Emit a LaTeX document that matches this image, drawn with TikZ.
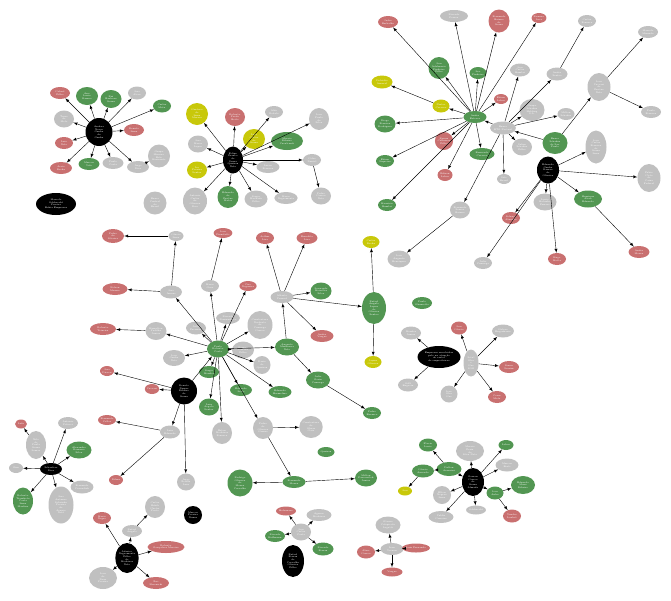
\documentclass[tikz,border=0pt]{standalone}
\usetikzlibrary{shapes.geometric}
\definecolor{nred}{RGB}{201,112,112}
\definecolor{ngreen}{RGB}{82,150,82}
\definecolor{ngrey}{RGB}{192,192,192}
\definecolor{nyellow}{RGB}{200,200,10}
\tikzset{
  base/.style={ellipse, inner sep=0pt, text=white, align=center,
    font=\fontsize{2.3}{2.7}\selectfont},
  rd/.style={base, fill=nred},
  gn/.style={base, fill=ngreen},
  gy/.style={base, fill=ngrey},
  yl/.style={base, fill=nyellow},
  bk/.style={base, fill=black},
  sz/.style 2 args={minimum width=#1pt, minimum height=#2pt}
}
\begin{document}
\begin{tikzpicture}[x=1pt, y=-1pt, >=latex, line width=0.4pt]
    \useasboundingbox (0,0) rectangle (671,600);
    % top left
    \node[bk, sz={27}{28}] (a0) at (99,132) {Andrea\\Neves\\Cunha\\da\\Cunha};
    \node[rd, sz={20}{12}] (a1) at (60,93) {Cabral\\Filho};
    \node[gn, sz={22}{18}] (a2) at (87,96) {Ana\\Lucia\\Ramos};
    \node[gn, sz={21}{18}] (a3) at (111,99) {Rui\\Barbosa\\Souza};
    \node[gy, sz={18}{13}] (a4) at (137,93) {Jose\\Alves};
    \node[gn, sz={18}{13}] (a5) at (162,106) {Carlos\\Mota};
    \node[gy, sz={20}{17}] (a6) at (64,119) {Tasso\\de\\Melo};
    \node[rd, sz={20}{12}] (a7) at (134,130) {Renato\\Lima};
    \node[rd, sz={18}{12}] (a8) at (64,143) {Luis\\Neto};
    \node[rd, sz={22}{12}] (a9) at (61,168) {Aecio\\Rocha};
    \node[gn, sz={21}{12}] (a10) at (89,164) {Marcos\\Vale};
    \node[gy, sz={21}{12}] (a11) at (113,163) {Paulo\\Costa};
    \node[gy, sz={22}{12}] (a12) at (138,167) {Jorge\\Dias};
    \node[gy, sz={22}{23}] (a13) at (159,156) {Grupo\\Mineiro\\Belo\\Horizonte};
    \node[bk, sz={40}{22}] (a14) at (56,204) {Marcelo\\Odebrecht\\Pereira\\Bahia Empresas};
    \node[gy, sz={23}{23}] (a15) at (155,203) {Banco\\Central\\do\\Brasil};
    \draw[->] (a0) to (a1);
    \draw[->] (a0) to (a2);
    \draw[->] (a0) to (a3);
    \draw[->] (a0) to (a4);
    \draw[->] (a0) to (a5);
    \draw[->] (a0) to (a6);
    \draw[->] (a0) to (a7);
    \draw[->] (a0) to (a8);
    \draw[->] (a0) to (a9);
    \draw[->] (a0) to (a10);
    \draw[->] (a0) to (a11);
    \draw[->] (a0) to (a12);
    \draw[->] (a12) to (a13);
    % top middle
    \node[bk, sz={20}{27}] (b0) at (233,160) {Felipe\\Franco\\de\\Sousa\\Queiroz\\Neto};
    \node[yl, sz={22}{22}] (b1) at (197,114) {Gustavo\\de\\Lima\\Moraes};
    \node[rd, sz={20}{18}] (b2) at (235,117) {Roberto\\Prado\\Brito};
    \node[gy, sz={18}{12}] (b3) at (274,112) {Aldo\\Rebelo};
    \node[gy, sz={20}{22}] (b4) at (319,119) {Joao\\Paulo\\da\\Silva};
    \node[yl, sz={22}{20}] (b5) at (254,139) {Luiz\\Carlos\\de\\Souza};
    \node[gn, sz={32}{18}] (b6) at (287,141) {Marcio\\Ribeiro\\Cavalcanti};
    \node[gy, sz={20}{17}] (b7) at (198,144) {Jose\\Maria\\Lopes};
    \node[yl, sz={20}{17}] (b8) at (197,170) {Ivo\\Pereira\\Santos};
    \node[gy, sz={18}{12}] (b9) at (312,160) {Celso\\Daniel};
    \node[gy, sz={23}{12}] (b10) at (268,167) {Lucas\\Ferreira};
    \node[gy, sz={24}{27}] (b11) at (195,201) {Antonio\\Carlos\\de\\Oliveira\\Reis};
    \node[gn, sz={21}{22}] (b12) at (228,197) {Eduardo\\de\\Freitas\\Matos};
    \node[gy, sz={23}{17}] (b13) at (256,199) {Sergio\\Machado\\Filho};
    \node[gy, sz={23}{12}] (b14) at (286,198) {Mario\\Negromonte};
    \node[gy, sz={20}{17}] (b15) at (321,196) {Pedro\\Correa\\Neto};
    \draw[->] (b0) to (b1);
    \draw[->] (b0) to (b2);
    \draw[->] (b0) to (b3);
    \draw[->] (b0) to (b4);
    \draw[->] (b0) to (b5);
    \draw[->] (b0) to (b6);
    \draw[->] (b0) to (b7);
    \draw[->] (b0) to (b8);
    \draw[->] (b0) to (b9);
    \draw[->] (b0) to (b10);
    \draw[->] (b0) to (b11);
    \draw[->] (b0) to (b12);
    \draw[->] (b0) to (b13);
    \draw[->] (b0) to (b14);
    \draw[->] (b9) to (b15);
    % top right
    \node[gn, sz={23}{12}] (c0) at (475,117) {Andre\\Esteves};
    \node[rd, sz={20}{12}] (c1) at (388,22) {Jader\\Barbalho};
    \node[gy, sz={28}{12}] (c2) at (454,16) {Ricardo\\Pessoa};
    \node[rd, sz={21}{23}] (c3) at (499,21) {Fernando\\Baiano\\de\\Souza};
    \node[gn, sz={21}{22}] (c4) at (439,68) {Jose\\Adelmario\\Pinheiro\\Filho};
    \node[gn, sz={17}{12}] (c5) at (478,73) {Leo\\Pinheiro};
    \node[yl, sz={21}{13}] (c6) at (382,82) {Delcidio\\Amaral};
    \node[yl, sz={17}{13}] (c7) at (441,106) {Nestor\\Cervero};
    \node[rd, sz={14}{10}] (c8) at (501,99) {Edson\\Lobao};
    \node[gn, sz={21}{17}] (c9) at (385,124) {Diogo\\Ferreira\\Rodrigues};
    \node[rd, sz={18}{18}] (c10) at (444,141) {Renan\\Calheiros\\Filho};
    \node[gn, sz={25}{12}] (c11) at (482,154) {Bernardo\\Cervero};
    \node[gn, sz={18}{12}] (c12) at (385,161) {Edson\\Siqueira};
    \node[rd, sz={14}{10}] (c13) at (539,18) {Romero\\Juca};
    \node[rd, sz={15}{12}] (c14) at (445,175) {Edison\\Lobao};
    \node[gn, sz={18}{12}] (c15) at (387,205) {Mauricio\\Bumlai};
    \node[gy, sz={25}{13}] (d0) at (503,128) {Banco\\BTG Pactual};
    \node[gy, sz={20}{13}] (d1) at (520,70) {Jose\\Carlos\\Bumlai};
    \node[gy, sz={21}{13}] (d2) at (557,74) {Andre\\Santos};
    \node[gy, sz={18}{12}] (d3) at (587,21) {Carlos\\Fonseca};
    \node[gy, sz={25}{22}] (d4) at (532,110) {Grupo\\Schahin\\Holding\\S.A.};
    \node[gy, sz={17}{12}] (d5) at (566,114) {Milton\\Schahin};
    \node[gy, sz={20}{12}] (d6) at (648,32) {Marcelo\\Miranda};
    \node[gy, sz={23}{28}] (d7) at (599,87) {Joao\\Vaccari\\de\\Freitas\\Neto};
    \node[gy, sz={20}{12}] (d8) at (651,112) {Paulo\\Ferreira};
    \node[gy, sz={20}{17}] (d9) at (522,147) {Salim\\Schahin\\Filho};
    \node[gn, sz={25}{22}] (d10) at (555,143) {Banco\\Schahin\\de Sao\\Paulo};
    \node[gy, sz={14}{10}] (d11) at (504,179) {Sete\\Brasil};
    \node[gy, sz={20}{17}] (d12) at (460,210) {Fernando\\Soares\\Baiano};
    \node[gy, sz={23}{17}] (d13) at (399,259) {Joao\\Augusto\\Henriques};
    \node[bk, sz={22}{27}] (e0) at (548,170) {Eduardo\\Cunha\\Ramos\\de\\Oliveira};
    \node[gy, sz={21}{33}] (e1) at (596,147) {Joao\\Carlos\\Ferreira\\de\\Souza\\Lima};
    \node[gy, sz={23}{28}] (e2) at (649,178) {Fabio\\Cleto\\de\\Caixa\\Federal};
    \node[gy, sz={23}{17}] (e3) at (545,202) {Lucio\\Bolonha\\Funaro};
    \node[gn, sz={28}{17}] (e4) at (588,199) {Henrique\\Alves\\Eduardo};
    \node[rd, sz={18}{12}] (e5) at (557,259) {Hugo\\Motta};
    \node[rd, sz={21}{12}] (e6) at (639,252) {Andre\\Moura};
    \node[rd, sz={18}{12}] (e7) at (511,218) {Solange\\Almeida};
    \node[gy, sz={18}{12}] (e8) at (483,263) {Julio\\Camargo};
    \draw[->] (c0) to (c1);
    \draw[->] (c0) to (c2);
    \draw[->] (c0) to (c3);
    \draw[->] (c0) to (c4);
    \draw[->] (c0) to (c5);
    \draw[->] (c0) to (c7);
    \draw[->] (c7) to (c6);
    \draw[->] (c0) to (c8);
    \draw[->] (c0) to (c9);
    \draw[->] (c0) to (c10);
    \draw[->] (c0) to (c11);
    \draw[->] (c0) to (c12);
    \draw[->] (c0) to (c13);
    \draw[->] (c0) to (c14);
    \draw[->] (c0) to (c15);
    \draw[->] (d0) to (c0);
    \draw[->] (d0) to (d1);
    \draw[->] (d0) to (d2);
    \draw[->] (d2) to (d3);
    \draw[->] (d0) to (d4);
    \draw[->] (d0) to (d5);
    \draw[->] (d0) to (d9);
    \draw[->] (d0) to (d11);
    \draw[->] (d0) to (d12);
    \draw[->] (d12) to (d13);
    \draw[->] (d10) to (d0);
    \draw[->] (d10) to (d7);
    \draw[->] (d7) to (d6);
    \draw[->] (d7) to (d8);
    \draw[->] (e0) to (e1);
    \draw[->] (e0) to (e2);
    \draw[->] (e0) to (e3);
    \draw[->] (e0) to (e4);
    \draw[->] (e4) to (e6);
    \draw[->] (e0) to (e5);
    \draw[->] (e0) to (e7);
    \draw[->] (e0) to (e8);
    % middle
    \node[gn, sz={22}{17}] (f0) at (218,349) {Paulo\\Roberto\\Costa};
    \node[rd, sz={22}{14}] (f1) at (113,236) {Pedro\\da\\Silveira};
    \node[gy, sz={15}{10}] (f2) at (176,236) {Otavio\\Lima};
    \node[rd, sz={14}{10}] (f3) at (223,233) {Joao\\Pizzolatti};
    \node[rd, sz={25}{12}] (f4) at (115,289) {Nelson\\Meurer};
    \node[gy, sz={22}{13}] (f5) at (171,292) {Jose\\Janene};
    \node[gy, sz={18}{12}] (f6) at (210,286) {Mario\\Goes};
    \node[rd, sz={16}{10}] (f7) at (248,286) {Ciro\\Nogueira};
    \node[rd, sz={26}{12}] (f8) at (103,329) {Roberto\\Teixeira};
    \node[gy, sz={21}{18}] (f9) at (156,331) {Hamylton\\Padilha\\Junior};
    \node[gy, sz={20}{13}] (f10) at (196,328) {Julio\\Faerman};
    \node[gy, sz={23}{12}] (f11) at (228,318) {Ricardo\\Pernambuco};
    \node[gy, sz={25}{28}] (f12) at (260,325) {Construtora\\Norberto\\de\\Camargo\\Correa};
    \node[gy, sz={22}{17}] (f13) at (243,350) {Gerson\\Almada\\Filho};
    \node[gy, sz={22}{16}] (f14) at (174,358) {Joao\\Cunha\\Neto};
    \node[gy, sz={17}{18}] (f15) at (262,365) {Dario\\de\\Queiroz};
    \node[gn, sz={20}{12}] (f16) at (209,372) {Sergio\\Mendes};
    \node[gn, sz={22}{12}] (f17) at (241,390) {Eduardo\\Leite};
    \node[gn, sz={20}{17}] (f18) at (209,407) {Luiz\\Argolo\\Santos};
    \node[gy, sz={20}{22}] (f19) at (222,433) {Erton\\Medeiros\\Fonseca};
    \node[gy, sz={23}{12}] (h0) at (282,297) {Alberto\\Youssef};
    \node[rd, sz={18}{12}] (h1) at (265,238) {Arthur\\Lira};
    \node[rd, sz={21}{12}] (h2) at (307,238) {Benedito\\Lira};
    \node[gn, sz={21}{17}] (h3) at (321,291) {Leonardo\\Meirelles\\Silva};
    \node[rd, sz={23}{12}] (h4) at (322,336) {Andre\\Vargas};
    \node[gn, sz={24}{17}] (h5) at (287,347) {Augusto\\Mendonca\\Neto};
    \node[gn, sz={24}{32}] (h6) at (374,308) {Rafael\\Angulo\\Lopez\\de\\Oliveira\\Santos};
    \node[yl, sz={17}{12}] (h7) at (371,242) {Carlos\\Rocha};
    \node[yl, sz={17}{12}] (h8) at (373,362) {Jayme\\Oliveira};
    \node[gn, sz={24}{17}] (h9) at (318,380) {Julio\\Gerin\\Camargo};
    \node[gn, sz={23}{12}] (h10) at (280,392) {Eduardo\\Hermelino};
    \node[gn, sz={18}{12}] (h11) at (372,413) {Pedro\\Barusco};
    \node[bk, sz={26}{27}] (g0) at (184,391) {Renato\\Duque\\Ribeiro\\de\\Souza};
    \node[rd, sz={14}{10}] (g1) at (107,371) {Jose\\Dirceu};
    \node[rd, sz={14}{10}] (g2) at (152,389) {Vaccari};
    \node[gy, sz={20}{13}] (g3) at (170,432) {Luiz\\Eduardo};
    \node[rd, sz={18}{10}] (g4) at (107,420) {Fernando\\Collor};
    \node[rd, sz={14}{10}] (g5) at (116,480) {Dilma};
    \node[gy, sz={18}{17}] (g6) at (186,482) {Jorge\\Zelada\\Luiz};
    \node[bk, sz={18}{18}] (g7) at (193,515) {Marcos\\Pereira\\Nunes};
    \draw[->] (f2) to (f1);
    \draw[->] (f5) to (f2);
    \draw[->] (f5) to (f4);
    \draw[->] (f0) to (f5);
    \draw[->] (f0) to (f6);
    \draw[->] (f6) to (f3);
    \draw[->] (f0) to (f7);
    \draw[->] (f0) to (f9);
    \draw[->] (f9) to (f8);
    \draw[->] (f0) to (f10);
    \draw[->] (f0) to (f11);
    \draw[->] (f0) to (f12);
    \draw[->] (f0) to (f13);
    \draw[->] (f0) to (f14);
    \draw[->] (f0) to (f15);
    \draw[->] (f0) to (f16);
    \draw[->] (f0) to (f17);
    \draw[->] (f0) to (f18);
    \draw[->] (f0) to (f19);
    \draw[->] (f0) to (h5);
    \draw[->] (f0) to (h10);
    \draw[->] (h5) to (h0);
    \draw[->] (h0) to (h1);
    \draw[->] (h0) to (h2);
    \draw[->] (h0) to (h3);
    \draw[->] (h0) to (h4);
    \draw[->] (h0) to (h6);
    \draw[->] (h6) to (h7);
    \draw[->] (h6) to (h8);
    \draw[->] (h5) to (h9);
    \draw[->] (h9) to (h11);
    \draw[->] (g0) to (f0);
    \draw[->] (g0) to (g1);
    \draw[->] (g0) to (g2);
    \draw[->] (g0) to (g3);
    \draw[->] (g0) to (g6);
    \draw[->] (g3) to (g4);
    \draw[->] (g3) to (g5);
    % bottom middle
    \node[gy, sz={20}{22}] (j1) at (263,428) {Pedro\\de\\Oliveira\\Gomes};
    \node[gy, sz={23}{22}] (j2) at (311,427) {Construtora\\de\\Obras\\Civis};
    \node[gn, sz={17}{10}] (j3) at (326,452) {Queiroz};
    \node[gn, sz={25}{27}] (j4) at (240,483) {Rodrigo\\Oliveira\\de\\Moura\\Carvalho};
    \node[gn, sz={23}{12}] (j5) at (294,482) {Fernando\\Moura};
    \node[gn, sz={22}{17}] (j6) at (366,478) {Milton\\Pascowitch\\Junior};
    \node[gy, sz={20}{17}] (m0) at (301,532) {Jose\\Carlos\\Costa};
    \node[rd, sz={20}{9}] (m1) at (286,511) {Bolsonaro};
    \node[gy, sz={25}{12}] (m2) at (319,515) {Agenor\\Medeiros};
    \node[gn, sz={20}{12}] (m3) at (275,536) {Ricardo\\Hoffmann};
    \node[gn, sz={21}{13}] (m4) at (323,549) {Ricardo\\Ferraz};
    \node[bk, sz={22}{32}] (m5) at (293,561) {Rafael\\Ferraz\\de\\Carvalho\\Oliveira\\Filho};
    \draw[->] (f0) to (j1);
    \draw[->] (j1) to (j2);
    \draw[->] (j1) to (j5);
    \draw[->] (j5) to (j4);
    \draw[->] (j5) to (j6);
    \draw[->] (m0) to (m1);
    \draw[->] (m0) to (m2);
    \draw[->] (m0) to (m3);
    \draw[->] (m0) to (m4);
    % bottom left
    \node[bk, sz={22}{12}] (k0) at (51,469) {Sebastiao\\Dias};
    \node[rd, sz={12}{9}] (k1) at (21,424) {Lula};
    \node[gy, sz={20}{12}] (k2) at (68,423) {Antonio\\Palocci};
    \node[gy, sz={20}{28}] (k3) at (36,445) {Nilo\\de\\Paula\\Souza\\Lemos};
    \node[gn, sz={25}{17}] (k4) at (79,450) {Alexandre\\Romano\\Silva};
    \node[gy, sz={14}{10}] (k5) at (16,468) {Gim};
    \node[gy, sz={23}{13}] (k6) at (82,487) {Fernando\\Cavendish};
    \node[gn, sz={20}{27}] (k7) at (23,501) {Roberto\\Trombeta\\Costa\\Lima\\Martins};
    \node[gy, sz={25}{37}] (k8) at (61,505) {Jose\\Antunes\\Sobrinho\\Pereira\\de\\Araujo\\Neto};
    \draw[->] (k0) to (k2);
    \draw[->] (k0) to (k3);
    \draw[->] (k3) to (k1);
    \draw[->] (k0) to (k4);
    \draw[->] (k0) to (k5);
    \draw[->] (k0) to (k6);
    \draw[->] (k0) to (k7);
    \draw[->] (k0) to (k8);
    \node[bk, sz={22}{30}] (l0) at (127,558) {Adarico\\Negromonte\\Filho\\de\\Medeiros\\Neto};
    \node[rd, sz={18}{12}] (l1) at (102,518) {Mario\\Negro};
    \node[gy, sz={20}{12}] (l2) at (132,531) {Rafael\\Angulo};
    \node[gy, sz={20}{22}] (l3) at (155,507) {Carlos\\Habib\\Chater\\Posto};
    \node[rd, sz={37}{12}] (l4) at (166,547) {Roberto\\Gonçalves Moreira};
    \node[gy, sz={28}{22}] (l5) at (103,578) {Joao\\de\\Deus\\Pereira};
    \node[rd, sz={26}{12}] (l6) at (156,583) {Zwi\\Skornicki};
    \draw[->] (l0) to (l1);
    \draw[->] (l0) to (l2);
    \draw[->] (l2) to (l3);
    \draw[->] (l0) to (l4);
    \draw[->] (l0) to (l5);
    \draw[->] (l0) to (l6);
    % bottom right
    \node[bk, sz={22}{28}] (n0) at (473,482) {Gerson\\Correa\\de\\Souza\\Almada};
    \node[gy, sz={28}{20}] (n1) at (470,451) {Marcio\\Faria\\da\\Silva Neto};
    \node[gn, sz={18}{13}] (n2) at (428,445) {Flavio\\Lucio};
    \node[gn, sz={15}{10}] (n3) at (506,445) {Lobao};
    \node[gy, sz={23}{13}] (n4) at (507,465) {Marcos\\Berti};
    \node[gn, sz={25}{14}] (n5) at (449,469) {Dalton\\Avancini};
    \node[gn, sz={22}{13}] (n6) at (423,471) {Otavio\\Azevedo};
    \node[yl, sz={14}{9}] (n7) at (405,491) {Jose};
    \node[gy, sz={18}{18}] (n8) at (442,495) {Elton\\Negrao\\Lima};
    \node[gn, sz={24}{18}] (n9) at (523,485) {Eduardo\\Musa\\Ribeiro};
    \node[gn, sz={17}{13}] (n10) at (495,493) {Joao\\Auler};
    \node[gy, sz={25}{12}] (n11) at (441,517) {Valdir\\Carreiro};
    \node[gy, sz={17}{9}] (n12) at (476,510) {Odebrecht};
    \node[rd, sz={18}{13}] (n13) at (512,516) {Vander\\Loubet};
    \draw[->] (n0) to (n1);
    \draw[->] (n0) to (n3);
    \draw[->] (n0) to (n4);
    \draw[->] (n5) to (n0);
    \draw[->] (n5) to (n2);
    \draw[->] (n5) to (n6);
    \draw[->] (n6) to (n7);
    \draw[->] (n0) to (n8);
    \draw[->] (n0) to (n11);
    \draw[->] (n0) to (n12);
    \draw[->] (n0) to (n10);
    \draw[->] (n10) to (n9);
    \draw[->] (n10) to (n13);
    \node[gy, sz={23}{12}] (o0) at (392,549) {Ivan\\Vernon};
    \node[gy, sz={25}{17}] (o1) at (388,525) {Glauco\\Colepicolo\\Legatti};
    \node[rd, sz={18}{13}] (o2) at (366,552) {Aline\\Correa};
    \node[rd, sz={20}{9}] (o3) at (416,548) {Luiz Fernando};
    \node[rd, sz={21}{9}] (o4) at (392,572) {Vargas};
    \draw[->] (o0) to (o1);
    \draw[->] (o0) to (o2);
    \draw[->] (o0) to (o3);
    \draw[->] (o0) to (o4);
    % right middle
    \node[bk, sz={43}{22}] (i0) at (439,357) {Empresas envolvidas\\pelo na atuação\\de cartel\\de empreiteiras};
    \node[gn, sz={20}{12}] (i1) at (422,303) {Paulo\\Okamotto};
    \node[gy, sz={20}{13}] (i2) at (411,333) {Mendes\\Junior};
    \node[gy, sz={20}{13}] (i3) at (408,385) {OAS\\Engevix};
    \node[gy, sz={15}{27}] (i4) at (471,363) {Setal\\Oleo\\e\\Gas\\SOG};
    \node[rd, sz={16}{13}] (i5) at (459,328) {Jose\\Otavio};
    \node[gy, sz={20}{13}] (i6) at (503,331) {Galvao\\Engenharia};
    \node[rd, sz={20}{12}] (i7) at (509,367) {Simao\\Sessim};
    \node[gy, sz={17}{17}] (i8) at (449,394) {Iesa\\Oleo\\Gas};
    \node[rd, sz={18}{12}] (i9) at (497,397) {Cesar\\Mata};
    \draw[->] (i0) to (i2);
    \draw[->] (i0) to (i3);
    \draw[->] (i4) to (i5);
    \draw[->] (i4) to (i6);
    \draw[->] (i4) to (i7);
    \draw[->] (i4) to (i8);
    \draw[->] (i4) to (i9);
\end{tikzpicture}
\end{document}
